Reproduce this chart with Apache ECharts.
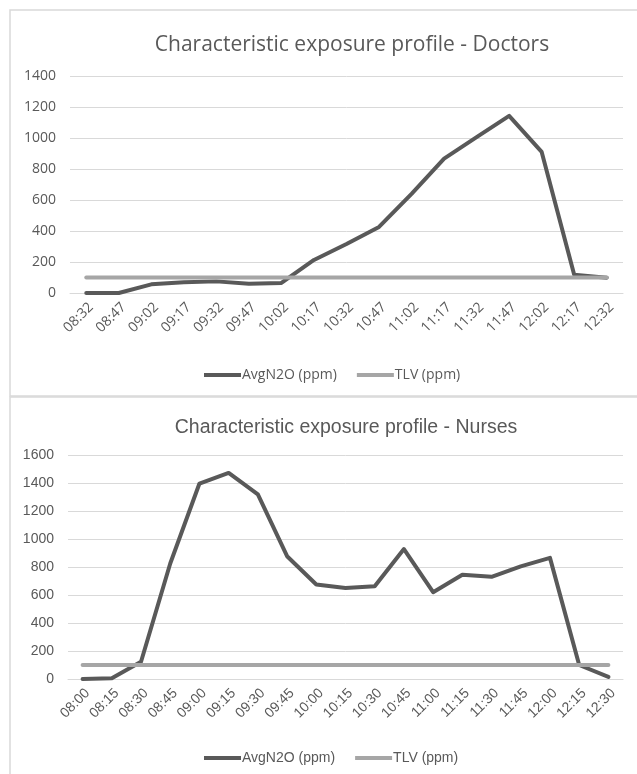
<!DOCTYPE html>
<html>
<head>
<meta charset="utf-8">
<script src="https://cdn.jsdelivr.net/npm/echarts@6/dist/echarts.min.js"></script>
<style>
  html, body { margin: 0; padding: 0; background: #fff; }
  #main { width: 637px; height: 774px; }
</style>
</head>
<body>
<div id="main"></div>
<script>
// Doctors
const doctorTimes = ['08:32', '08:47', '09:02', '09:17', '09:32', '09:47', '10:02', '10:17', '10:32',
    '10:47', '11:02', '11:17', '11:32', '11:47', '12:02', '12:17', '12:32']
const doctorN2O = [0, 0, 56, 69, 75, 60, 65, 213, 316, 426, 640, 867, 1006, 1143, 910, 118, 99]
const doctorTLV = [100, 100, 100, 100, 100, 100, 100, 100, 100, 100, 100, 100, 100, 100, 100, 100, 100]

// Nurses
const nurseTimes = ['08:00', '08:15', '08:30', '08:45', '09:00', '09:15', '09:30', '09:45', '10:00', '10:15',
    '10:30', '10:45', '11:00', '11:15', '11:30', '11:45', '12:00', '12:15', '12:30']
const nurseN2O = [0, 5, 123, 825, 1396, 1472, 1318, 877, 675, 650, 662, 928, 620, 745, 730, 805, 865, 100, 15]
const nurseTLV = [100, 100, 100, 100, 100, 100, 100, 100, 100, 100, 100, 100, 100, 100, 100, 100, 100, 100, 100]

const dark = '#595959'
const light = '#a6a6a6'
const gridColor = '#d9d9d9'
const textColor = '#595959'

const xAxisFor = (idx, data, font) => ({
    type: 'category',
    gridIndex: idx,
    data: data,
    boundaryGap: true,
    axisLine: { lineStyle: { color: gridColor, width: 1 } },
    axisTick: { show: false },
    axisLabel: {
        rotate: 45, color: textColor, fontSize: 14, fontFamily: font,
        margin: 7, interval: 0, verticalAlign: 'top'
    }
})
const yAxisFor = (idx, max, font) => ({
    type: 'value',
    gridIndex: idx,
    min: 0,
    max: max,
    interval: 200,
    axisLine: { show: false },
    axisTick: { show: false },
    axisLabel: { color: textColor, fontSize: 14, fontFamily: font, margin: 14, formatter: v => String(v) },
    splitLine: { lineStyle: { color: gridColor, width: 1 } }
})
const lineSeries = (name, idx, data, color) => ({
    name: name,
    type: 'line',
    xAxisIndex: idx,
    yAxisIndex: idx,
    data: data,
    showSymbol: false,
    symbol: 'none',
    lineStyle: { color: color, width: 4, cap: 'round', join: 'round' },
    itemStyle: { color: color }
})
const legendAt = (top, font) => ({
    data: ['AvgN2O (ppm)', 'TLV (ppm)'],
    left: 199, top: top,
    icon: 'rect', itemWidth: 37, itemHeight: 4, itemGap: 20,
    textStyle: { color: textColor, fontSize: 14, fontFamily: font, padding: [0, 0, 0, -4] },
    selectedMode: false
})

const chart = echarts.init(document.getElementById('main'), null, { renderer: 'canvas' })
chart.setOption({
    animation: false,
    backgroundColor: '#ffffff',
    graphic: [
        { type: 'rect', shape: { x: 10, y: 10, width: 700, height: 386 },
          style: { fill: 'none', stroke: gridColor, lineWidth: 1.5 } },
        { type: 'rect', shape: { x: 10, y: 397, width: 700, height: 500 },
          style: { fill: 'none', stroke: gridColor, lineWidth: 1.5 } }
    ],
    title: [
        {
            text: 'Characteristic exposure profile - Doctors',
            left: 347, top: 30, textAlign: 'center',
            textStyle: { color: textColor, fontSize: 21, fontWeight: 'normal', fontFamily: 'Open Sans' }
        },
        {
            text: 'Characteristic exposure profile - Nurses',
            left: 341, top: 413, textAlign: 'center',
            textStyle: { color: textColor, fontSize: 19.5, fontWeight: 'normal', fontFamily: 'Liberation Sans' }
        }
    ],
    legend: [legendAt(363, 'Open Sans'), legendAt(746, 'Liberation Sans')],
    grid: [
        { left: 70, right: 14, top: 76, height: 217 },
        { left: 68, right: 14, top: 455, height: 224 }
    ],
    xAxis: [xAxisFor(0, doctorTimes, 'Open Sans'), xAxisFor(1, nurseTimes, 'Liberation Sans')],
    yAxis: [yAxisFor(0, 1400, 'Open Sans'), yAxisFor(1, 1600, 'Liberation Sans')],
    series: [
        lineSeries('AvgN2O (ppm)', 0, doctorN2O, dark),
        lineSeries('TLV (ppm)', 0, doctorTLV, light),
        lineSeries('AvgN2O (ppm)', 1, nurseN2O, dark),
        lineSeries('TLV (ppm)', 1, nurseTLV, light)
    ]
})
</script>
</body>
</html>
